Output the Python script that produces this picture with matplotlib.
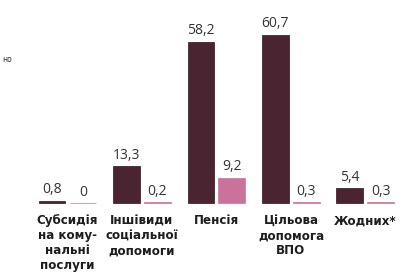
import numpy as np
import matplotlib.pyplot as plt

# data
categories = ["Субсидія\nна кому-\nнальні\nпослуги",
              "Іншівиди\nсоціальної\nдопомоги",
              "Пенсія",
              "Цільова\nдопомога\nВПО",
              "Жодних*"]
series_dark = [0.8, 13.3, 58.2, 60.7, 5.4]
series_pink = [0, 0.2, 9.2, 0.3, 0.3]

DARK = "#4b2431"
PINK = "#c9729b"

fig = plt.figure(figsize=(4.06, 2.75), dpi=100)
ax = fig.add_axes([0, 0, 1, 1])

x = np.arange(len(categories))
off = 0.208
w = 0.362

ax.bar(x - off, series_dark, width=w, color=DARK, edgecolor=DARK, linewidth=0.6)
ax.bar(x + off, series_pink, width=w, color=PINK, edgecolor=PINK, linewidth=0.5)


def fmt(v):
    return f"{v:.1f}".replace(".", ",") if v != 0 else "0"


for xs, vals in ((x - off, series_dark), (x + off, series_pink)):
    for xi, v in zip(xs, vals):
        ax.annotate(fmt(v), xy=(xi, v), xytext=(0, 2.5), textcoords="offset points",
                    ha="center", va="bottom", fontsize=10, color="#333333",
                    family="Open Sans")

for xi, lab in zip(x, categories):
    ax.text(xi, -4.0, lab, ha="center", va="top", fontsize=8.6,
            fontweight="bold", color="#1e1e1e", linespacing=1.2,
            family="DejaVu Sans")

# cut-off text on the left edge
fig.text(12 / 406, 1 - 60 / 275, "но", ha="right", va="center", fontsize=5.5,
         color="#333333")

ax.set_xlim(-0.906, 4.544)
ax.set_ylim(-26.0, 73.3)
ax.axis("off")

fig.savefig("out.png", dpi=100, facecolor="white")
